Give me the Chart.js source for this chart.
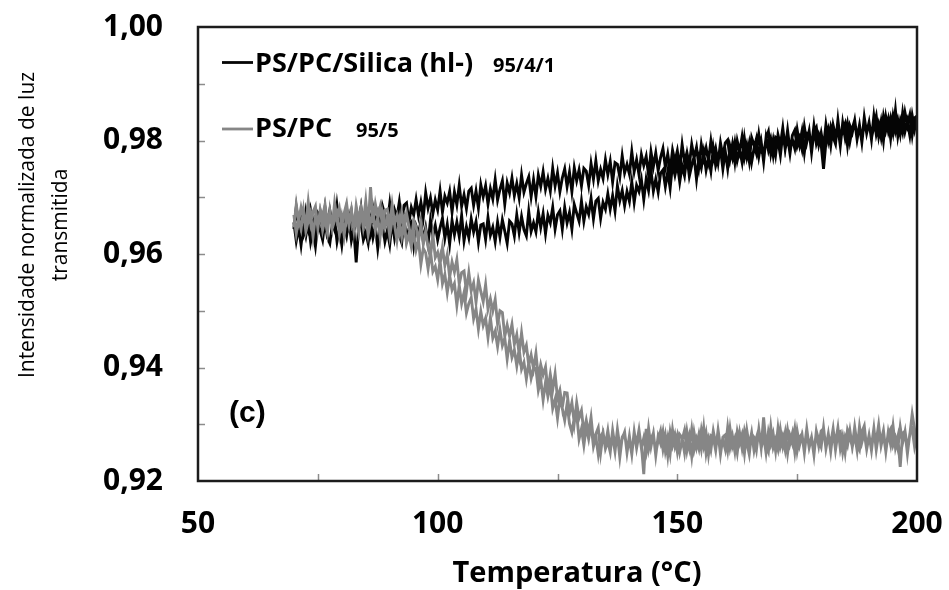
<!DOCTYPE html>
<html>
<head>
<meta charset="utf-8">
<script src="https://cdn.jsdelivr.net/npm/chart.js@4.4.1/dist/chart.umd.min.js"></script>
<style>
html,body{margin:0;padding:0;background:#fff;}
#wrap{width:949px;height:590px;position:relative;}
</style>
</head>
<body>
<div id="wrap"><canvas id="c" width="949" height="590"></canvas></div>
<script>
// ---- data (temperature in °C, half-degree steps) ----
const temperaturesC = [
 70,70.5,71,71.5,72,72.5,73,73.5,74,74.5,75,75.5,76,76.5,77,77.5,78,78.5,79,79.5,
 80,80.5,81,81.5,82,82.5,83,83.5,84,84.5,85,85.5,86,86.5,87,87.5,88,88.5,89,89.5,
 90,90.5,91,91.5,92,92.5,93,93.5,94,94.5,95,95.5,96,96.5,97,97.5,98,98.5,99,99.5,
 100,100.5,101,101.5,102,102.5,103,103.5,104,104.5,105,105.5,106,106.5,107,107.5,108,108.5,109,109.5,
 110,110.5,111,111.5,112,112.5,113,113.5,114,114.5,115,115.5,116,116.5,117,117.5,118,118.5,119,119.5,
 120,120.5,121,121.5,122,122.5,123,123.5,124,124.5,125,125.5,126,126.5,127,127.5,128,128.5,129,129.5,
 130,130.5,131,131.5,132,132.5,133,133.5,134,134.5,135,135.5,136,136.5,137,137.5,138,138.5,139,139.5,
 140,140.5,141,141.5,142,142.5,143,143.5,144,144.5,145,145.5,146,146.5,147,147.5,148,148.5,149,149.5,
 150,150.5,151,151.5,152,152.5,153,153.5,154,154.5,155,155.5,156,156.5,157,157.5,158,158.5,159,159.5,
 160,160.5,161,161.5,162,162.5,163,163.5,164,164.5,165,165.5,166,166.5,167,167.5,168,168.5,169,169.5,
 170,170.5,171,171.5,172,172.5,173,173.5,174,174.5,175,175.5,176,176.5,177,177.5,178,178.5,179,179.5,
 180,180.5,181,181.5,182,182.5,183,183.5,184,184.5,185,185.5,186,186.5,187,187.5,188,188.5,189,189.5,
 190,190.5,191,191.5,192,192.5,193,193.5,194,194.5,195,195.5,196,196.5,197,197.5,198,198.5,199,199.5,
 200];

// PS/PC/Silica (hl-) 95/4/1 — lower (heating) trace
const silicaHeating = [
 0.9656,0.9623,0.9647,0.9616,0.9652,0.9632,0.9658,0.9621,0.9642,0.9614,0.9654,0.9641,0.9625,0.9659,0.9629,0.9619,0.9650,0.9661,0.9622,0.9645,
 0.9616,0.9651,0.9632,0.9661,0.9624,0.9644,0.9585,0.9646,0.9654,0.9625,0.9638,0.9619,0.9657,0.9629,0.9649,0.9610,0.9645,0.9653,0.9622,0.9641,
 0.9617,0.9657,0.9628,0.9652,0.9633,0.9620,0.9662,0.9625,0.9644,0.9654,0.9615,0.9649,0.9636,0.9657,0.9623,0.9646,0.9618,0.9660,0.9632,0.9650,
 0.9625,0.9646,0.9663,0.9628,0.9652,0.9618,0.9659,0.9634,0.9656,0.9631,0.9668,0.9623,0.9648,0.9629,0.9662,0.9639,0.9657,0.9621,0.9651,0.9653,
 0.9626,0.9664,0.9633,0.9647,0.9622,0.9656,0.9630,0.9660,0.9640,0.9619,0.9658,0.9653,0.9632,0.9669,0.9638,0.9666,0.9643,0.9632,0.9675,0.9640,
 0.9655,0.9639,0.9674,0.9647,0.9671,0.9636,0.9668,0.9655,0.9682,0.9644,0.9669,0.9676,0.9644,0.9682,0.9655,0.9673,0.9644,0.9687,0.9672,0.9658,
 0.9693,0.9658,0.9683,0.9670,0.9698,0.9662,0.9693,0.9698,0.9663,0.9691,0.9679,0.9706,0.9679,0.9703,0.9676,0.9720,0.9694,0.9712,0.9685,0.9710,
 0.9693,0.9727,0.9691,0.9721,0.9710,0.9731,0.9696,0.9732,0.9712,0.9747,0.9711,0.9732,0.9709,0.9742,0.9748,0.9719,0.9745,0.9716,0.9759,0.9739,
 0.9759,0.9727,0.9755,0.9738,0.9772,0.9737,0.9756,0.9771,0.9732,0.9769,0.9752,0.9779,0.9748,0.9770,0.9746,0.9786,0.9756,0.9772,0.9785,0.9750,
 0.9781,0.9751,0.9789,0.9770,0.9796,0.9765,0.9784,0.9762,0.9803,0.9772,0.9795,0.9762,0.9786,0.9803,0.9772,0.9797,0.9763,0.9805,0.9783,0.9802,
 0.9774,0.9805,0.9800,0.9774,0.9812,0.9786,0.9818,0.9783,0.9802,0.9786,0.9819,0.9793,0.9816,0.9779,0.9813,0.9811,0.9789,0.9826,0.9795,0.9810,
 0.9793,0.9750,0.9797,0.9818,0.9791,0.9827,0.9808,0.9823,0.9791,0.9831,0.9805,0.9829,0.9798,0.9821,0.9836,0.9804,0.9827,0.9797,0.9834,0.9813,
 0.9832,0.9802,0.9843,0.9811,0.9829,0.9806,0.9842,0.9818,0.9837,0.9804,0.9842,0.9817,0.9836,0.9812,0.9848,0.9816,0.9834,0.9809,0.9844,0.9820,
 0.9844];

// PS/PC/Silica (hl-) 95/4/1 — upper (cooling) trace, listed by ascending temperature
const silicaCooling = [
 0.9644,0.9682,0.9651,0.9665,0.9640,0.9674,0.9648,0.9678,0.9658,0.9637,0.9673,0.9667,0.9645,0.9681,0.9650,0.9677,0.9654,0.9642,0.9685,0.9649,
 0.9663,0.9646,0.9680,0.9652,0.9675,0.9639,0.9670,0.9656,0.9682,0.9643,0.9668,0.9675,0.9642,0.9680,0.9653,0.9671,0.9641,0.9684,0.9669,0.9654,
 0.9689,0.9653,0.9678,0.9664,0.9692,0.9656,0.9686,0.9690,0.9655,0.9682,0.9669,0.9696,0.9668,0.9691,0.9665,0.9708,0.9681,0.9699,0.9671,0.9695,
 0.9678,0.9711,0.9674,0.9702,0.9690,0.9710,0.9674,0.9709,0.9687,0.9721,0.9684,0.9704,0.9680,0.9711,0.9716,0.9686,0.9711,0.9681,0.9722,0.9701,
 0.9720,0.9688,0.9715,0.9697,0.9731,0.9695,0.9714,0.9729,0.9688,0.9725,0.9708,0.9734,0.9703,0.9724,0.9699,0.9739,0.9709,0.9724,0.9736,0.9701,
 0.9731,0.9701,0.9739,0.9719,0.9745,0.9714,0.9733,0.9711,0.9751,0.9720,0.9743,0.9710,0.9734,0.9750,0.9719,0.9744,0.9710,0.9752,0.9729,0.9748,
 0.9720,0.9751,0.9746,0.9721,0.9759,0.9732,0.9764,0.9729,0.9749,0.9733,0.9766,0.9740,0.9763,0.9727,0.9761,0.9758,0.9736,0.9773,0.9743,0.9758,
 0.9741,0.9780,0.9745,0.9766,0.9740,0.9775,0.9756,0.9772,0.9739,0.9780,0.9754,0.9778,0.9747,0.9770,0.9786,0.9753,0.9776,0.9747,0.9783,0.9763,
 0.9782,0.9753,0.9793,0.9762,0.9779,0.9757,0.9793,0.9769,0.9788,0.9755,0.9793,0.9769,0.9787,0.9764,0.9799,0.9768,0.9786,0.9761,0.9796,0.9772,
 0.9796,0.9801,0.9768,0.9793,0.9762,0.9799,0.9780,0.9806,0.9770,0.9791,0.9764,0.9805,0.9792,0.9777,0.9811,0.9782,0.9773,0.9804,0.9816,0.9777,
 0.9801,0.9775,0.9810,0.9792,0.9822,0.9785,0.9806,0.9777,0.9809,0.9818,0.9790,0.9804,0.9785,0.9824,0.9797,0.9817,0.9779,0.9815,0.9823,0.9793,
 0.9813,0.9788,0.9828,0.9800,0.9824,0.9806,0.9794,0.9836,0.9800,0.9819,0.9830,0.9792,0.9826,0.9814,0.9835,0.9802,0.9826,0.9798,0.9841,0.9813,
 0.9832,0.9804,0.9825,0.9843,0.9808,0.9833,0.9800,0.9841,0.9817,0.9839,0.9815,0.9853,0.9808,0.9834,0.9815,0.9849,0.9827,0.9845,0.9810,0.9840,
 0.9843];

// PS/PC 95/5 — heating trace
const blendHeating = [
 0.9669,0.9636,0.9662,0.9644,0.9677,0.9640,0.9658,0.9672,0.9631,0.9667,0.9649,0.9674,0.9642,0.9663,0.9637,0.9676,0.9645,0.9659,0.9671,0.9635,
 0.9664,0.9633,0.9670,0.9650,0.9675,0.9643,0.9661,0.9638,0.9678,0.9646,0.9668,0.9634,0.9657,0.9673,0.9641,0.9665,0.9630,0.9671,0.9648,0.9666,
 0.9632,0.9660,0.9652,0.9624,0.9659,0.9630,0.9658,0.9619,0.9635,0.9613,0.9639,0.9607,0.9624,0.9582,0.9610,0.9602,0.9574,0.9605,0.9569,0.9578,
 0.9555,0.9588,0.9548,0.9564,0.9532,0.9562,0.9537,0.9548,0.9510,0.9545,0.9513,0.9532,0.9496,0.9513,0.9523,0.9486,0.9503,0.9468,0.9499,0.9474,
 0.9487,0.9453,0.9488,0.9452,0.9464,0.9437,0.9467,0.9439,0.9452,0.9415,0.9447,0.9418,0.9431,0.9403,0.9433,0.9397,0.9409,0.9380,0.9409,0.9381,
 0.9399,0.9398,0.9360,0.9379,0.9343,0.9374,0.9349,0.9370,0.9328,0.9344,0.9311,0.9346,0.9328,0.9307,0.9336,0.9301,0.9286,0.9312,0.9318,0.9274,
 0.9292,0.9263,0.9295,0.9274,0.9300,0.9261,0.9278,0.9247,0.9278,0.9286,0.9257,0.9270,0.9251,0.9289,0.9261,0.9281,0.9242,0.9277,0.9285,0.9254,
 0.9273,0.9247,0.9287,0.9258,0.9282,0.9263,0.9212,0.9292,0.9255,0.9274,0.9284,0.9245,0.9279,0.9266,0.9287,0.9253,0.9276,0.9248,0.9290,0.9262,
 0.9280,0.9251,0.9272,0.9289,0.9254,0.9278,0.9244,0.9285,0.9260,0.9282,0.9257,0.9294,0.9249,0.9274,0.9255,0.9288,0.9265,0.9283,0.9247,0.9277,
 0.9281,0.9254,0.9292,0.9261,0.9275,0.9250,0.9284,0.9258,0.9288,0.9268,0.9247,0.9283,0.9277,0.9255,0.9291,0.9260,0.9312,0.9264,0.9252,0.9295,
 0.9259,0.9273,0.9256,0.9290,0.9262,0.9285,0.9249,0.9280,0.9266,0.9292,0.9253,0.9277,0.9283,0.9250,0.9287,0.9259,0.9276,0.9246,0.9288,0.9272,
 0.9260,0.9294,0.9257,0.9281,0.9266,0.9292,0.9255,0.9284,0.9287,0.9251,0.9277,0.9263,0.9289,0.9260,0.9282,0.9254,0.9296,0.9268,0.9285,0.9256,
 0.9279,0.9261,0.9293,0.9255,0.9283,0.9270,0.9289,0.9252,0.9286,0.9264,0.9297,0.9259,0.9278,0.9225,0.9284,0.9288,0.9257,0.9281,0.9318,0.9291,
 0.9269];

// PS/PC 95/5 — cooling trace, listed by ascending temperature
const blendCooling = [
 0.9647,0.9687,0.9658,0.9682,0.9663,0.9650,0.9692,0.9655,0.9674,0.9684,0.9645,0.9679,0.9666,0.9687,0.9653,0.9676,0.9648,0.9690,0.9662,0.9680,
 0.9651,0.9672,0.9689,0.9654,0.9678,0.9644,0.9685,0.9660,0.9682,0.9657,0.9694,0.9649,0.9718,0.9655,0.9688,0.9665,0.9683,0.9647,0.9677,0.9679,
 0.9650,0.9687,0.9655,0.9668,0.9641,0.9673,0.9645,0.9672,0.9649,0.9625,0.9658,0.9648,0.9621,0.9653,0.9617,0.9640,0.9612,0.9596,0.9634,0.9594,
 0.9603,0.9582,0.9612,0.9580,0.9599,0.9559,0.9586,0.9568,0.9590,0.9547,0.9567,0.9570,0.9533,0.9567,0.9535,0.9549,0.9515,0.9554,0.9534,0.9516,
 0.9546,0.9503,0.9521,0.9500,0.9520,0.9477,0.9500,0.9497,0.9455,0.9475,0.9455,0.9476,0.9441,0.9458,0.9424,0.9461,0.9427,0.9439,0.9404,0.9422,
 0.9398,0.9425,0.9382,0.9405,0.9387,0.9401,0.9359,0.9388,0.9361,0.9389,0.9346,0.9360,0.9330,0.9356,0.9355,0.9319,0.9338,0.9302,0.9338,0.9311,
 0.9324,0.9286,0.9307,0.9284,0.9312,0.9270,0.9283,0.9294,0.9250,0.9284,0.9264,0.9289,0.9257,0.9278,0.9252,0.9291,0.9260,0.9274,0.9286,0.9250,
 0.9279,0.9248,0.9285,0.9265,0.9290,0.9258,0.9276,0.9253,0.9293,0.9261,0.9283,0.9249,0.9272,0.9288,0.9256,0.9280,0.9245,0.9286,0.9263,0.9281,
 0.9252,0.9282,0.9276,0.9250,0.9287,0.9260,0.9291,0.9255,0.9274,0.9257,0.9289,0.9262,0.9284,0.9247,0.9280,0.9277,0.9254,0.9290,0.9259,0.9273,
 0.9256,0.9294,0.9259,0.9279,0.9252,0.9287,0.9267,0.9282,0.9249,0.9289,0.9262,0.9285,0.9254,0.9276,0.9291,0.9258,0.9280,0.9250,0.9286,0.9265,
 0.9283,0.9253,0.9293,0.9261,0.9278,0.9255,0.9290,0.9266,0.9284,0.9251,0.9288,0.9263,0.9281,0.9257,0.9292,0.9260,0.9277,0.9252,0.9286,0.9262,
 0.9288,0.9292,0.9259,0.9283,0.9252,0.9288,0.9268,0.9294,0.9257,0.9278,0.9250,0.9290,0.9277,0.9261,0.9295,0.9265,0.9255,0.9286,0.9297,0.9258,
 0.9281,0.9254,0.9289,0.9270,0.9299,0.9262,0.9282,0.9252,0.9284,0.9292,0.9263,0.9276,0.9257,0.9295,0.9267,0.9287,0.9248,0.9283,0.9291,0.9260,
 0.9279];

const seriesNames = ['PS/PC/Silica (hl-)', 'PS/PC'];
const seriesCompositions = ['95/4/1', '95/5'];
const xTickValues = [50, 100, 150, 200];
const xMinorTicks = [75, 100, 125, 150, 175];
const yTickValues = [0.92, 0.94, 0.96, 0.98, 1.00];
const yTickLabels = ['0,92', '0,94', '0,96', '0,98', '1,00'];
const yMinorTicks = [0.93, 0.94, 0.95, 0.96, 0.97, 0.98, 0.99];
const xTitle = 'Temperatura (°C)';
const yTitleLines = ['Intensidade normalizada de luz', 'transmitida'];
const panelLabel = '(c)';

// ---- build heating -> cooling loop ----
function loopPoints(heat, cool) {
  const pts = temperaturesC.map((t, i) => ({x: t, y: heat[i]}));
  for (let i = temperaturesC.length - 1; i >= 0; i--) pts.push({x: temperaturesC[i], y: cool[i]});
  return pts;
}

const BLACK = '#050505';
const GRAY = '#868686';
const FONT = "'Open Sans', 'DejaVu Sans', sans-serif";

const decor = {
  id: 'decor',
  afterDatasetsDraw(chart) {
    const {ctx, chartArea: a, scales: {x, y}} = chart;
    ctx.save();
    ctx.strokeStyle = '#8c8c8c';
    ctx.lineWidth = 1.5;
    xMinorTicks.forEach(v => {
      const px = Math.round(x.getPixelForValue(v)) + 0.5;
      ctx.beginPath(); ctx.moveTo(px, a.bottom); ctx.lineTo(px, a.bottom - 7); ctx.stroke();
    });
    yMinorTicks.forEach(v => {
      const py = Math.round(y.getPixelForValue(v)) + 0.5;
      ctx.beginPath(); ctx.moveTo(a.left, py); ctx.lineTo(a.left + 7, py); ctx.stroke();
    });
    ctx.strokeStyle = '#1c1c1c';
    ctx.lineWidth = 2.5;
    ctx.strokeRect(a.left, a.top, a.right - a.left, a.bottom - a.top);

    const rows = [
      {color: BLACK, lineY: 62.5, base: 72, numX: 493},
      {color: GRAY, lineY: 129, base: 137, numX: 356}
    ];
    rows.forEach((r, i) => {
      ctx.strokeStyle = r.color; ctx.lineWidth = 2.8;
      ctx.beginPath(); ctx.moveTo(222, r.lineY); ctx.lineTo(253, r.lineY); ctx.stroke();
      ctx.fillStyle = '#000';
      ctx.textAlign = 'left'; ctx.textBaseline = 'alphabetic';
      ctx.font = 'bold 27px ' + FONT;
      ctx.fillText(seriesNames[i], 255, r.base);
      ctx.font = 'bold 20px ' + FONT;
      ctx.fillText(seriesCompositions[i], r.numX, r.base);
    });

    ctx.font = "bold 30px 'Liberation Sans', Arial, sans-serif";
    ctx.fillStyle = '#000';
    ctx.fillText(panelLabel, 229, 422);

    ctx.font = 'bold 29px ' + FONT;
    ctx.textAlign = 'center';
    ctx.fillText(xTitle, 577, 582);

    ctx.font = '21px ' + FONT;
    ctx.textBaseline = 'middle';
    ctx.save(); ctx.translate(28, 225); ctx.rotate(-Math.PI / 2); ctx.fillText(yTitleLines[0], 0, 0); ctx.restore();
    ctx.save(); ctx.translate(61, 225); ctx.rotate(-Math.PI / 2); ctx.fillText(yTitleLines[1], 0, 0); ctx.restore();
    ctx.restore();
  }
};

function zeroPad(s) { s.paddingTop = 0; s.paddingBottom = 0; s.paddingLeft = 0; s.paddingRight = 0; }

new Chart(document.getElementById('c').getContext('2d'), {
  type: 'line',
  data: {
    datasets: [
      {label: seriesNames[0], data: loopPoints(silicaHeating, silicaCooling), borderColor: BLACK, backgroundColor: BLACK,
       borderWidth: 2.9, pointRadius: 0, tension: 0, fill: false, order: 1},
      {label: seriesNames[1], data: loopPoints(blendHeating, blendCooling), borderColor: GRAY, backgroundColor: GRAY,
       borderWidth: 2.9, pointRadius: 0, tension: 0, fill: false, order: 0}
    ]
  },
  options: {
    responsive: false,
    animation: false,
    devicePixelRatio: 1,
    layout: {padding: {top: 27, right: 32, left: 0, bottom: 0}},
    plugins: {legend: {display: false}, tooltip: {enabled: false}},
    scales: {
      x: {
        type: 'linear', min: 50, max: 200,
        afterBuildTicks: s => { s.ticks = xTickValues.map(v => ({value: v})); },
        ticks: {color: '#000', font: {family: FONT, size: 30, weight: 'bold'}, padding: 25, maxRotation: 0, autoSkip: false},
        grid: {display: false, drawTicks: false},
        border: {display: false},
        afterFit: s => { s.height = 109; zeroPad(s); }
      },
      y: {
        min: 0.92, max: 1.00,
        afterBuildTicks: s => { s.ticks = yTickValues.map(v => ({value: v})); },
        ticks: {color: '#000', font: {family: FONT, size: 30, weight: 'bold'}, padding: 35,
                callback: (v, i) => yTickLabels[i]},
        grid: {display: false, drawTicks: false},
        border: {display: false},
        afterFit: s => { s.width = 198; zeroPad(s); }
      }
    }
  },
  plugins: [decor]
});
</script>
</body>
</html>
